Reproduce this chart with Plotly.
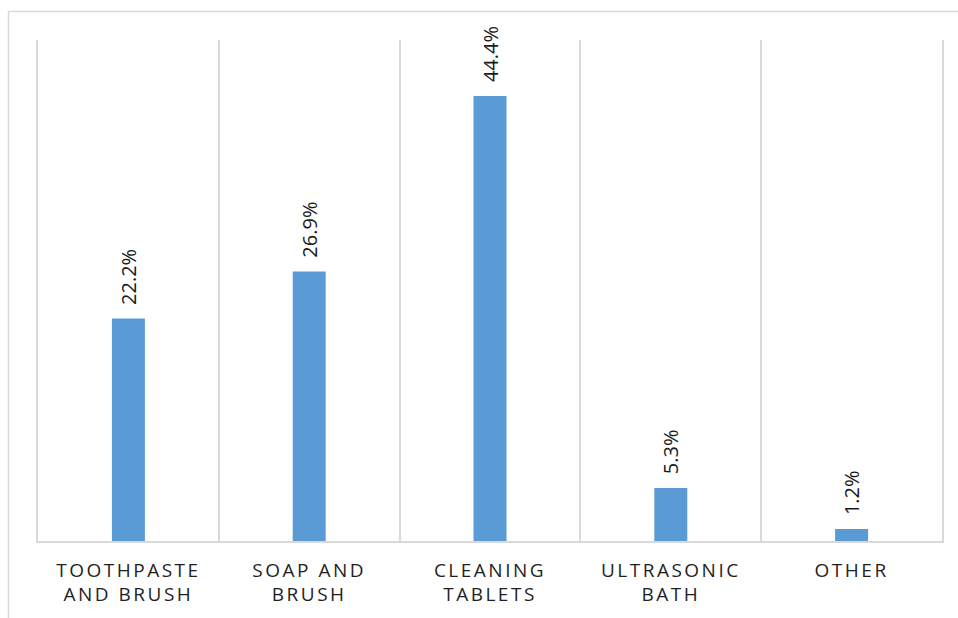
import plotly.graph_objects as go

categories = ["TOOTHPASTE<br>AND BRUSH", "SOAP AND<br>BRUSH", "CLEANING<br>TABLETS", "ULTRASONIC<br>BATH", "OTHER"]
values = [22.2, 26.9, 44.4, 5.3, 1.2]
labels = ["22.2%", "26.9%", "44.4%", "5.3%", "1.2%"]

W, H = 958, 618
ML, MR, MT, MB = 38, 16, 40, 77
pw, ph = W - ML - MR, H - MT - MB

fig = go.Figure()
fig.add_trace(go.Bar(x=categories, y=values, marker=dict(color="#5B9BD5", line=dict(width=0)),
                     hoverinfo="skip"))

for c, v, t in zip(categories, values, labels):
    fig.add_annotation(x=c, y=v, text=t, textangle=-90, showarrow=False,
                       yanchor="bottom", xanchor="center", yshift=12,
                       font=dict(family="Open Sans", size=20, color="#1a1a1a"))

# outer chart frame (partially cropped)
fx0 = (8.5 - ML) / pw
fy1 = 1 + (MT - 11.5) / ph
fig.add_shape(type="rect", xref="paper", yref="paper", x0=fx0, x1=1.5, y0=-1, y1=fy1,
              line=dict(color="#d9d9d9", width=1.5), fillcolor="rgba(0,0,0,0)", layer="below")

fig.update_layout(
    width=W, height=H, margin=dict(l=ML, r=MR, t=MT, b=MB, autoexpand=False),
    paper_bgcolor="white", plot_bgcolor="white",
    bargap=0.8175, showlegend=False,
    font=dict(family="Open Sans", color="#262626"),
)
fig.update_xaxes(type="category", tickson="boundaries", showgrid=True, gridcolor="#d9d9d9", gridwidth=1.5,
                 ticks="", showline=True, linecolor="#d9d9d9", linewidth=1.5, automargin=False,
                 tickfont=dict(family="Open Sans", size=19, color="#1f1f1f"), ticklabelstandoff=11)
fig.update_yaxes(range=[0, 50], showgrid=False, showticklabels=False, zeroline=False,
                 showline=True, mirror=True, linecolor="#d9d9d9", linewidth=1.5, ticks="",
                 automargin=False)

post = "document.querySelectorAll('.xtick text').forEach(function(t){t.style.letterSpacing='2.5px';});"
fig.write_html("out.html", post_script=post)
